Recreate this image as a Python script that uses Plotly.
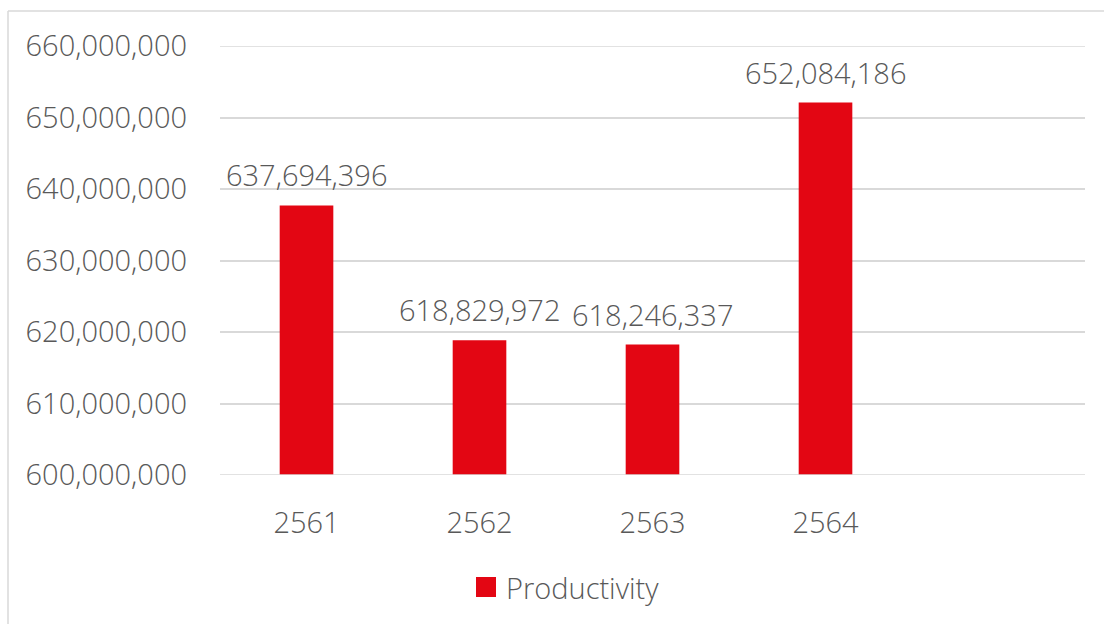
import plotly.graph_objects as go

# Annual productivity by Thai Buddhist-era year
years = ["2561", "2562", "2563", "2564"]
productivity = [637694396, 618829972, 618246337, 652084186]
y_ticks = [600000000, 610000000, 620000000, 630000000, 640000000, 650000000, 660000000]
series_name = "Productivity"

W, H = 1104, 624
ML, MR, MT, MB = 220, 19, 46, 149
plot_w = W - ML - MR
plot_h = H - MT - MB

FONT = "Open Sans"
SIZE = 29
WEIGHT = 300
GREY = "#595959"
RED = "#E30613"
LINE = "#D9D9D9"
TEXT_FONT = dict(family=FONT, size=SIZE, color=GREY, weight=WEIGHT)


def px_x(px):
    return (px - ML) / plot_w


def px_y(py):
    return (H - MB - py) / plot_h


fig = go.Figure()
fig.add_trace(go.Bar(
    x=years,
    y=productivity,
    name=series_name,
    marker=dict(color=RED, line=dict(width=0)),
    width=0.31,
    showlegend=False,
))

# value labels above each bar (category index positions)
for i, v in enumerate(productivity):
    fig.add_annotation(
        x=i, y=v, xref="x", yref="y", text=f"{v:,}", showarrow=False,
        yanchor="bottom", yshift=9, font=TEXT_FONT,
    )

# legend: red swatch + series name
fig.add_shape(type="rect", xref="paper", yref="paper",
              x0=px_x(476), x1=px_x(496), y0=px_y(597), y1=px_y(577),
              fillcolor=RED, line=dict(width=0))
fig.add_annotation(xref="paper", yref="paper", x=px_x(504), y=px_y(587),
                   xanchor="left", yanchor="middle", showarrow=False,
                   text=series_name, font=TEXT_FONT)

# chart-area outline (left and top edges)
fig.add_shape(type="line", xref="paper", yref="paper",
              x0=px_x(8), x1=px_x(8), y0=px_y(11), y1=px_y(H + 5),
              line=dict(color=LINE, width=1.5))
fig.add_shape(type="line", xref="paper", yref="paper",
              x0=px_x(8), x1=px_x(W + 5), y0=px_y(11), y1=px_y(11),
              line=dict(color=LINE, width=1.5))

# top and bottom gridlines at the range limits
for yv in (y_ticks[0], y_ticks[-1]):
    fig.add_shape(type="line", xref="paper", yref="y",
                  x0=0, x1=1, y0=yv, y1=yv,
                  line=dict(color=LINE, width=1.5))

fig.update_layout(
    width=W, height=H,
    margin=dict(l=ML, r=MR, t=MT, b=MB),
    paper_bgcolor="white", plot_bgcolor="white",
    font=TEXT_FONT,
    showlegend=False,
    xaxis=dict(
        type="category",
        range=[-0.5, 4.5],
        showgrid=False, showline=False, zeroline=False,
        ticks="", ticklabelstandoff=28,
        tickfont=TEXT_FONT,
    ),
    yaxis=dict(
        range=[y_ticks[0], y_ticks[-1]],
        tickvals=y_ticks,
        tickformat=",d",
        showgrid=True, gridcolor=LINE, gridwidth=1.5,
        zeroline=False, showline=False, ticks="",
        ticklabelstandoff=32,
        tickfont=TEXT_FONT,
    ),
)

fig.write_html("out.html")
